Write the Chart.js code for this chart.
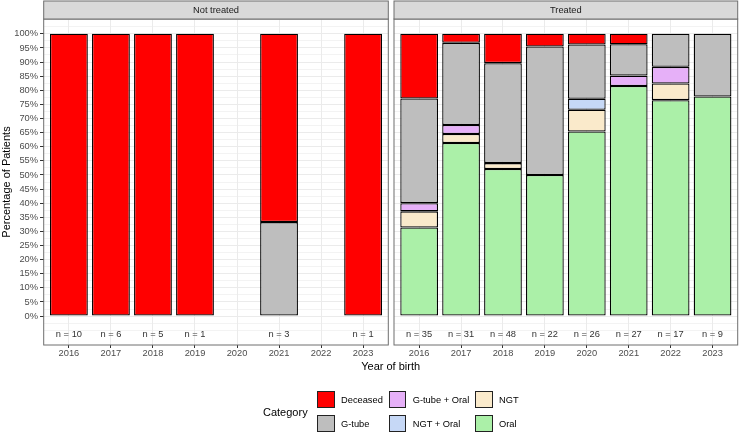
<!DOCTYPE html>
<html>
<head>
<meta charset="utf-8">
<script src="https://cdn.jsdelivr.net/npm/chart.js@4.4.0/dist/chart.umd.min.js"></script>
<style>
  html, body { margin: 0; padding: 0; background: #fff; }
  #wrap { position: relative; width: 740px; height: 434px; overflow: hidden; font-family: "Liberation Sans", Arial, Helvetica, sans-serif; }
  canvas { position: absolute; top: 0; }
  .txt { position: absolute; white-space: nowrap; }
</style>
</head>
<body>
<div id="wrap">
  <canvas id="left" width="392" height="434" style="left:0px"></canvas>
  <canvas id="right" width="350" height="434" style="left:390px"></canvas>
  <div class="txt" id="xtitle" style="left:43.7px;width:694px;top:360px;text-align:center;font-size:11px;line-height:13px;color:#000;">Year of birth</div>
  <div id="legend"></div>
</div>
<script>
// ---------- DATA ----------
const years = [2016, 2017, 2018, 2019, 2020, 2021, 2022, 2023];
const categories = ['Deceased', 'G-tube', 'G-tube + Oral', 'NGT + Oral', 'NGT', 'Oral'];
const categoryColors = ['#FF0000', '#BEBEBE', '#E6B0F8', '#C6D8F6', '#FAEACB', '#ABF0A8'];
const yBreaks = [0, 5, 10, 15, 20, 25, 30, 35, 40, 45, 50, 55, 60, 65, 70, 75, 80, 85, 90, 95, 100];

// Not treated panel (percent of patients)
const ntDeceased = [100, 100, 100, 100, null, 66.7, null, 100];
const ntGtube    = [null, null, null, null, null, 33.3, null, null];
const ntN        = [10, 6, 5, 1, null, 3, null, 1];

// Treated panel (percent of patients)
const trOral     = [31.4, 61.3, 52.1, 50.0, 65.4, 81.5, 76.5, 77.8];
const trNGT      = [5.7, 3.2, 2.1, null, 7.7, null, 5.9, null];
const trNGTOral  = [null, null, null, null, 3.9, null, null, null];
const trGtubeOral= [2.9, 3.2, null, null, null, 3.7, 5.9, null];
const trGtube    = [37.1, 29.1, 35.4, 45.5, 19.2, 11.1, 11.7, 22.2];
const trDeceased = [22.9, 3.2, 10.4, 4.5, 3.8, 3.7, null, null];
const trN        = [35, 31, 48, 22, 26, 27, 17, 9];

// ---------- HELPERS ----------
const FONT = '"Liberation Sans", Arial, Helvetica, sans-serif';
Chart.defaults.font.family = FONT;

function makeDatasets(seriesByCat) {
  // stacking order bottom-up: Oral, NGT, NGT + Oral, G-tube + Oral, G-tube, Deceased
  const order = ['Oral', 'NGT', 'NGT + Oral', 'G-tube + Oral', 'G-tube', 'Deceased'];
  return order.filter(c => seriesByCat[c]).map(c => {
    const vals = seriesByCat[c];
    const ci = categories.indexOf(c);
    return {
      label: c,
      data: years.map((yr, i) => ({ x: yr, y: vals[i] })),
      backgroundColor: categoryColors[ci],
      borderColor: '#000',
      borderWidth: 1.3,
      borderSkipped: false,
      categoryPercentage: 1,
      barPercentage: 0.9
    };
  });
}

const facetPlugin = {
  id: 'facet',
  afterDatasetsDraw(chart, args, opts) {
    const ctx = chart.ctx;
    const xs = chart.scales.x, ys = chart.scales.y;
    ctx.save();
    ctx.font = '9.3px ' + FONT;
    ctx.fillStyle = '#333';
    ctx.textAlign = 'center';
    ctx.textBaseline = 'middle';
    opts.n.forEach((n, i) => {
      if (n == null) return;
      ctx.fillText('n = ' + n, xs.getPixelForValue(years[i]), ys.getPixelForValue(-6.5));
    });
    ctx.restore();
  },
  afterDraw(chart, args, opts) {
    const ctx = chart.ctx;
    const ca = chart.chartArea;
    ctx.save();
    ctx.strokeStyle = '#6e6e6e';
    ctx.lineWidth = 1;
    ctx.strokeRect(ca.left, ca.top, ca.right - ca.left, ca.bottom - ca.top);
    ctx.fillStyle = '#D9D9D9';
    ctx.fillRect(ca.left, 1, ca.right - ca.left, ca.top - 1);
    ctx.strokeRect(ca.left, 1, ca.right - ca.left, ca.top - 1);
    ctx.fillStyle = '#1A1A1A';
    ctx.font = '9.3px ' + FONT;
    ctx.textAlign = 'center';
    ctx.textBaseline = 'middle';
    ctx.fillText(opts.strip, (ca.left + ca.right) / 2, (1 + ca.top) / 2 + 0.5);
    ctx.restore();
  }
};

function isMajor(v) { return yBreaks.includes(v); }

function makeChart(id, datasets, strip, nArr, showY, pad) {
  const gridVals = [];
  for (let v = -5; v <= 105.001; v += 2.5) gridVals.push(Math.round(v * 10) / 10);
  return new Chart(document.getElementById(id), {
    type: 'bar',
    data: { datasets },
    plugins: [facetPlugin],
    options: {
      responsive: false,
      animation: false,
      devicePixelRatio: 1,
      layout: { padding: pad },
      plugins: {
        legend: { display: false },
        tooltip: { enabled: false },
        facet: { strip: strip, n: nArr }
      },
      scales: {
        x: {
          type: 'linear',
          stacked: true,
          offset: false,
          min: 2015.4,
          max: 2023.6,
          afterBuildTicks: s => { s.ticks = years.map(v => ({ value: v })); },
          afterFit: s => { s.height = 20; },
          ticks: {
            autoSkip: false, maxRotation: 0, padding: 0,
            color: '#4D4D4D', font: { size: 9.3 },
            callback: v => String(v)
          },
          grid: {
            offset: false, color: '#EBEBEB', lineWidth: 1,
            tickColor: '#333', tickLength: 3, tickWidth: 1
          },
          border: { display: false }
        },
        y: {
          type: 'linear',
          stacked: true,
          min: -10.25,
          max: 105.25,
          afterBuildTicks: s => { s.ticks = gridVals.map(v => ({ value: v })); },
          afterFit: s => { s.width = showY ? 43.7 : 0; },
          ticks: {
            display: showY, autoSkip: false, padding: 2,
            color: '#4D4D4D', font: { size: 9.3 },
            callback: v => isMajor(v) ? v + '%' : ''
          },
          grid: {
            color: '#EBEBEB',
            lineWidth: c => (c.tick && isMajor(c.tick.value)) ? 1 : 0.6,
            drawTicks: showY,
            tickColor: c => (c.tick && isMajor(c.tick.value)) ? '#333' : 'rgba(0,0,0,0)',
            tickLength: 3.7, tickWidth: 1
          },
          border: { display: false },
          title: {
            display: showY, text: 'Percentage of Patients',
            color: '#000', font: { size: 11 }, padding: 0
          }
        }
      }
    }
  });
}

makeChart('left',
  makeDatasets({ 'Deceased': ntDeceased, 'G-tube': ntGtube }),
  'Not treated', ntN, true,
  { left: 0, right: 3.7, top: 19, bottom: 69 });

makeChart('right',
  makeDatasets({
    'Oral': trOral, 'NGT': trNGT, 'NGT + Oral': trNGTOral,
    'G-tube + Oral': trGtubeOral, 'G-tube': trGtube, 'Deceased': trDeceased
  }),
  'Treated', trN, false,
  { left: 4, right: 2.3, top: 19, bottom: 69 });

// ---------- LEGEND (HTML, built from the category arrays) ----------
(function () {
  const lg = document.getElementById('legend');
  const colX = [317.3, 389, 475.3];
  const rowY = [391, 415];
  const title = document.createElement('div');
  title.className = 'txt';
  title.textContent = 'Category';
  title.style.cssText = 'left:263px;top:405.5px;font-size:11px;line-height:13px;color:#000;';
  lg.appendChild(title);
  categories.forEach((c, i) => {
    const col = Math.floor(i / 2), row = i % 2;
    const key = document.createElement('div');
    key.style.cssText = `position:absolute;left:${colX[col]}px;top:${rowY[row]}px;width:17.3px;height:17.3px;box-sizing:border-box;border:1px solid #222;background:${categoryColors[i]};`;
    lg.appendChild(key);
    const lab = document.createElement('div');
    lab.className = 'txt';
    lab.textContent = c;
    lab.style.cssText = `left:${colX[col] + 23.7}px;top:${rowY[row] + 8.65 - 6}px;font-size:9.3px;line-height:12px;color:#000;`;
    lg.appendChild(lab);
  });
})();
</script>
</body>
</html>
